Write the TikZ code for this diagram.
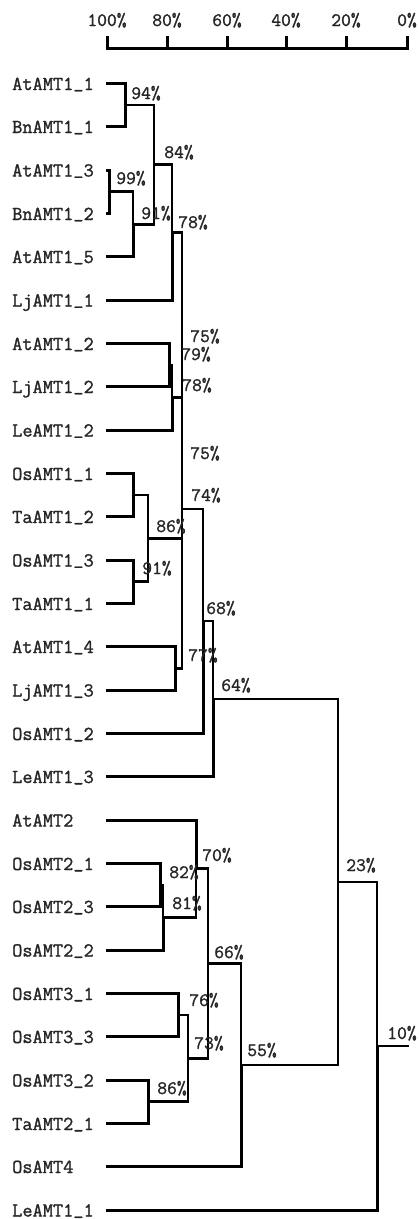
\documentclass[tikz,border=0pt]{standalone}
\usepackage{fontspec}
\newfontfamily\labfont{Latin Modern Mono}[FakeBold=1.3]
\newcommand{\usc}{\raisebox{2.6pt}{\_}}
\begin{document}
\begin{tikzpicture}[x=1pt,y=-1pt,
  leaflabel/.style={anchor=base west,inner sep=0pt,font=\labfont\fontsize{19.8}{21}\selectfont,text=black!85},
  pct/.style={anchor=base,inner sep=0pt,font=\labfont\fontsize{19}{20}\selectfont,text=black!85},
  branch/.style={line width=2.6pt,line cap=rect},
  leafline/.style={line width=3pt},
  axisline/.style={line width=3pt,line cap=rect}]
\useasboundingbox (0,0) rectangle (419,1219);

% ---------- axis ----------
\foreach \x/\t [count=\k] in {107/100\%,167/80\%,227/60\%,286/40\%,346/20\%,407/0\%}{
  \node[pct] (ax\k) at (\x,26) {\t};
  \coordinate (tk\k) at (\x,37);
  \coordinate (tb\k) at (\x,48);
  \draw[axisline] (tk\k) -- (tb\k);
}
\draw[axisline] (tb1) -- (tb6);

% ---------- leaves ----------
\foreach \name/\y [count=\i] in {
  AtAMT1\usc1/83.5, BnAMT1\usc1/126.5, AtAMT1\usc3/170, BnAMT1\usc2/213.5, AtAMT1\usc5/256.5,
  LjAMT1\usc1/300, AtAMT1\usc2/343.5, LjAMT1\usc2/386.5, LeAMT1\usc2/430, OsAMT1\usc1/473.5,
  TaAMT1\usc2/516.5, OsAMT1\usc3/560, TaAMT1\usc1/603.5, AtAMT1\usc4/646.5, LjAMT1\usc3/690,
  OsAMT1\usc2/733.5, LeAMT1\usc3/776.5, AtAMT2/820, OsAMT2\usc1/863.5, OsAMT2\usc3/906.5,
  OsAMT2\usc2/950, OsAMT3\usc1/993.5, OsAMT3\usc3/1036.5, OsAMT3\usc2/1080, TaAMT2\usc1/1123.5,
  OsAMT4/1166.5, LeAMT1\usc1/1210}{
  \node[leaflabel] (n\i) at (12,\y+6.5) {\name};
  \coordinate (p\i) at (106,\y);
}

% ---------- joins ----------
\coordinate (j94)  at (125,105);
\coordinate (j99)  at (109,191.7);
\coordinate (j91a) at (133,224.2);
\coordinate (j84)  at (154,164.6);
\coordinate (j78a) at (172,232.3);
\coordinate (j79)  at (169,365);
\coordinate (j78b) at (172,397.5);
\coordinate (j75a) at (182,315);
\coordinate (j91b) at (133,495);
\coordinate (j91c) at (133,581.7);
\coordinate (j86a) at (148,538.3);
\coordinate (j75b) at (182,426.7);
\coordinate (j77)  at (175,668.3);
\coordinate (j74)  at (182,509);
\coordinate (j68)  at (203,621);
\coordinate (j64)  at (213,698.8);
\coordinate (j82)  at (160,885);
\coordinate (j81)  at (163,917.5);
\coordinate (j70)  at (196,868.7);
\coordinate (j76)  at (178,1015);
\coordinate (j86b) at (148,1101.7);
\coordinate (j73)  at (188,1058.3);
\coordinate (j66)  at (208,963.5);
\coordinate (j55)  at (241,1065);
\coordinate (j23)  at (338,881.9);
\coordinate (j10)  at (377,1046);
\coordinate (root) at (408,1046);

% leaf-level brackets (thicker leaf lines)
\draw[leafline] (p1) -| (j94) |- (p2);
\draw[leafline] (p3) -| (j99) |- (p4);
\draw[leafline] (p5) -| (j91a);
\draw[leafline] (p6) -| (j78a);
\draw[leafline] (p7) -| (j79) |- (p8);
\draw[leafline] (p9) -| (j78b);
\draw[leafline] (p10) -| (j91b) |- (p11);
\draw[leafline] (p12) -| (j91c) |- (p13);
\draw[leafline] (p14) -| (j77) |- (p15);
\draw[leafline] (p16) -| (j68);
\draw[leafline] (p17) -| (j64);
\draw[leafline] (p18) -| (j70);
\draw[leafline] (p19) -| (j82) |- (p20);
\draw[leafline] (p21) -| (j81);
\draw[leafline] (p22) -| (j76) |- (p23);
\draw[leafline] (p24) -| (j86b) |- (p25);
\draw[leafline] (p26) -| (j55);
\draw[leafline] (p27) -| (j10);

% inner brackets
\draw[branch] (j99) -| (j91a);
\draw[branch] (j94) -| (j84) |- (j91a);
\draw[branch] (j84) -| (j78a);
\draw[branch] (j79) -| (j78b);
\draw[branch] (j78a) -| (j75a) |- (j78b);
\draw[branch] (j91b) -| (j86a) |- (j91c);
\draw[branch] (j75a) -| (j75b) |- (j86a);
\draw[branch] (j75b) -| (j74) |- (j77);
\draw[branch] (j74) -| (j68);
\draw[branch] (j68) -| (j64);
\draw[branch] (j82) -| (j81);
\draw[branch] (j81) -| (j70);
\draw[branch] (j76) -| (j73) |- (j86b);
\draw[branch] (j70) -| (j66) |- (j73);
\draw[branch] (j66) -| (j55);
\draw[branch] (j64) -| (j23) |- (j55);
\draw[branch] (j23) -| (j10);
\draw[branch] (j10) -- (root);

% ---------- percentages ----------
\node[pct] (l94)  at (146,99)   {94\%};
\node[pct] (l84)  at (179,158)  {84\%};
\node[pct] (l99)  at (131,184)  {99\%};
\node[pct] (l91a) at (156,219)  {91\%};
\node[pct] (l78a) at (193,228)  {78\%};
\node[pct] (l75a) at (205,342)  {75\%};
\node[pct] (l79)  at (196,360)  {79\%};
\node[pct] (l78b) at (197,391)  {78\%};
\node[pct] (l75b) at (205,459)  {75\%};
\node[pct] (l74)  at (206,501)  {74\%};
\node[pct] (l86a) at (171,532)  {86\%};
\node[pct] (l91c) at (157,574)  {91\%};
\node[pct] (l68)  at (221,614)  {68\%};
\node[pct] (l77)  at (203,661)  {77\%};
\node[pct] (l64)  at (236,691)  {64\%};
\node[pct] (l70)  at (217,861)  {70\%};
\node[pct] (l82)  at (184,878)  {82\%};
\node[pct] (l81)  at (187,909)  {81\%};
\node[pct] (l66)  at (229,958)  {66\%};
\node[pct] (l23)  at (361,871)  {23\%};
\node[pct] (l76)  at (204,1006) {76\%};
\node[pct] (l10)  at (402,1039) {10\%};
\node[pct] (l73)  at (209,1049) {73\%};
\node[pct] (l55)  at (262,1056) {55\%};
\node[pct] (l86b) at (172,1094) {86\%};
\end{tikzpicture}
\end{document}
